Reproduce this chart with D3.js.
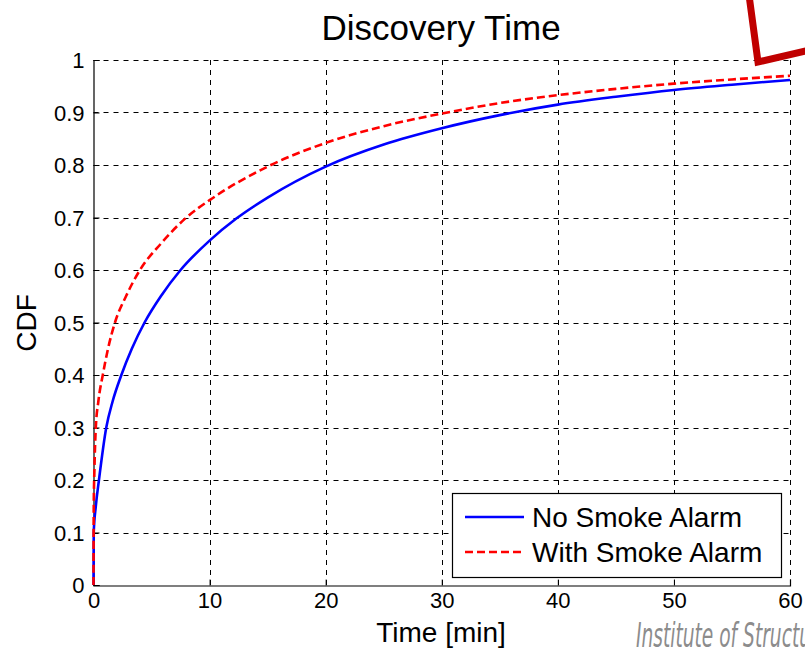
<!DOCTYPE html>
<html>
<head>
<meta charset="utf-8">
<script src="https://cdn.jsdelivr.net/npm/d3@7"></script>
<style>
  body { margin: 0; background: #fff; }
  svg { display: block; font-family: "Liberation Sans", Arial, sans-serif; }
</style>
</head>
<body>
<svg id="chart" width="805" height="651"></svg>
<script>
// Discovery time CDFs
const noAlarmTime = [0, 0.02, 0.2, 0.47, 1.1, 1.65, 2.4, 3.3, 4.4, 5.8, 7.5, 10, 12.3, 15, 20, 25, 30, 35, 40, 45, 50, 55, 60];
const noAlarmCdf  = [0, 0.1, 0.15, 0.2, 0.3, 0.35, 0.4, 0.45, 0.5, 0.55, 0.6, 0.656, 0.698, 0.738, 0.797, 0.839, 0.87, 0.895, 0.915, 0.93, 0.943, 0.953, 0.962];

const withAlarmTime = [0, 0.02, 0.08, 0.2, 0.42, 0.8, 1.25, 1.85, 2.8, 4.0, 5.8, 8.0, 10, 15, 20, 25, 30, 35, 40, 45, 50, 55, 60];
const withAlarmCdf  = [0, 0.15, 0.22, 0.3, 0.35, 0.4, 0.45, 0.5, 0.55, 0.6, 0.65, 0.7, 0.733, 0.797, 0.842, 0.874, 0.898, 0.918, 0.933, 0.945, 0.955, 0.963, 0.97];

const xTicks = [0, 10, 20, 30, 40, 50, 60];
const yTicks = [0, 0.1, 0.2, 0.3, 0.4, 0.5, 0.6, 0.7, 0.8, 0.9, 1];
const seriesNames = ["No Smoke Alarm", "With Smoke Alarm"];

const svg = d3.select("#chart");

const x = d3.scaleLinear().domain([0, 60]).range([93.5, 790]);
const y = d3.scaleLinear().domain([0, 1]).range([585, 60]);

// grid
const grid = svg.append("g")
  .attr("stroke", "#000")
  .attr("stroke-width", 1)
  .attr("stroke-dasharray", "5,5");

grid.selectAll(".gx").data(xTicks.slice(1)).enter().append("line")
  .attr("x1", d => Math.round(x(d)) + 0.5).attr("x2", d => Math.round(x(d)) + 0.5)
  .attr("y1", y(0)).attr("y2", y(1));

grid.selectAll(".gy").data(yTicks.slice(1)).enter().append("line")
  .attr("y1", d => Math.round(y(d)) + 0.5).attr("y2", d => Math.round(y(d)) + 0.5)
  .attr("x1", x(0)).attr("x2", x(60));

// axes (MATLAB style: inward ticks)
const xAxis = d3.axisBottom(x).tickValues(xTicks).tickSize(-6).tickPadding(11);
const yAxis = d3.axisLeft(y).tickValues(yTicks).tickSize(-6).tickPadding(9)
  .tickFormat(d => d === 0 || d === 1 ? d : d3.format(".1f")(d));

const gx = svg.append("g").attr("transform", "translate(0,585.5)").call(xAxis);
const gy = svg.append("g").attr("transform", "translate(93.5,0)").call(yAxis);

[gx, gy].forEach(g => {
  g.selectAll("text").attr("font-size", 22).attr("fill", "#000")
    .attr("font-family", "'Liberation Sans', Arial, sans-serif");
  g.selectAll("line").attr("stroke", "#000");
  g.select(".domain").attr("stroke", "#000").attr("stroke-width", 1.2);
});
gx.selectAll("text").attr("dy", "0.5em");
gy.selectAll("text").attr("dy", "0.35em");

// curves
const line = d3.line()
  .x(d => x(d[0]))
  .y(d => y(d[1]))
  .curve(d3.curveMonotoneX);

const noAlarm = noAlarmTime.map((t, i) => [t, noAlarmCdf[i]]);
const withAlarm = withAlarmTime.map((t, i) => [t, withAlarmCdf[i]]);

svg.append("path")
  .datum(noAlarm)
  .attr("d", line)
  .attr("fill", "none")
  .attr("stroke", "#0000ff")
  .attr("stroke-width", 2.6);

svg.append("path")
  .datum(withAlarm)
  .attr("d", line)
  .attr("fill", "none")
  .attr("stroke", "#ff0000")
  .attr("stroke-width", 2.6)
  .attr("stroke-dasharray", "8,4");

// title and axis labels
svg.append("text")
  .attr("x", 441).attr("y", 40)
  .attr("text-anchor", "middle")
  .attr("font-size", 35)
  .text("Discovery Time");

svg.append("text")
  .attr("x", 441).attr("y", 642)
  .attr("text-anchor", "middle")
  .attr("font-size", 28)
  .text("Time [min]");

svg.append("text")
  .attr("transform", "translate(36,323) rotate(-90)")
  .attr("text-anchor", "middle")
  .attr("font-size", 28)
  .text("CDF");

// legend
const legend = svg.append("g");
legend.append("rect")
  .attr("x", 452.5).attr("y", 493.5)
  .attr("width", 329).attr("height", 84)
  .attr("fill", "#fff").attr("stroke", "#000").attr("stroke-width", 1.2);

const legendRows = legend.selectAll(".row").data(seriesNames).enter().append("g")
  .attr("transform", (d, i) => `translate(0,${517 + i * 35})`);

legendRows.append("line")
  .attr("x1", 465).attr("x2", 524)
  .attr("stroke", (d, i) => i === 0 ? "#0000ff" : "#ff0000")
  .attr("stroke-width", 2.6)
  .attr("stroke-dasharray", (d, i) => i === 0 ? null : "8,4");

legendRows.append("text")
  .attr("x", 532).attr("dy", "0.35em")
  .attr("font-size", 28)
  .text(d => d);

// decoration: red corner mark and watermark text at the edges
svg.append("polyline")
  .attr("points", "749,-5 758,62 810,50")
  .attr("fill", "none")
  .attr("stroke", "#c00000")
  .attr("stroke-width", 7);

svg.append("text")
  .attr("x", 636).attr("y", 647)
  .attr("font-size", 33)
  .attr("font-style", "italic")
  .attr("fill", "#8c8c8c")
  .attr("font-family", "'Liberation Sans Narrow', 'DejaVu Sans Condensed', sans-serif")
  .attr("textLength", 175)
  .attr("lengthAdjust", "spacingAndGlyphs")
  .text("Institute of Structu");
</script>
</body>
</html>
